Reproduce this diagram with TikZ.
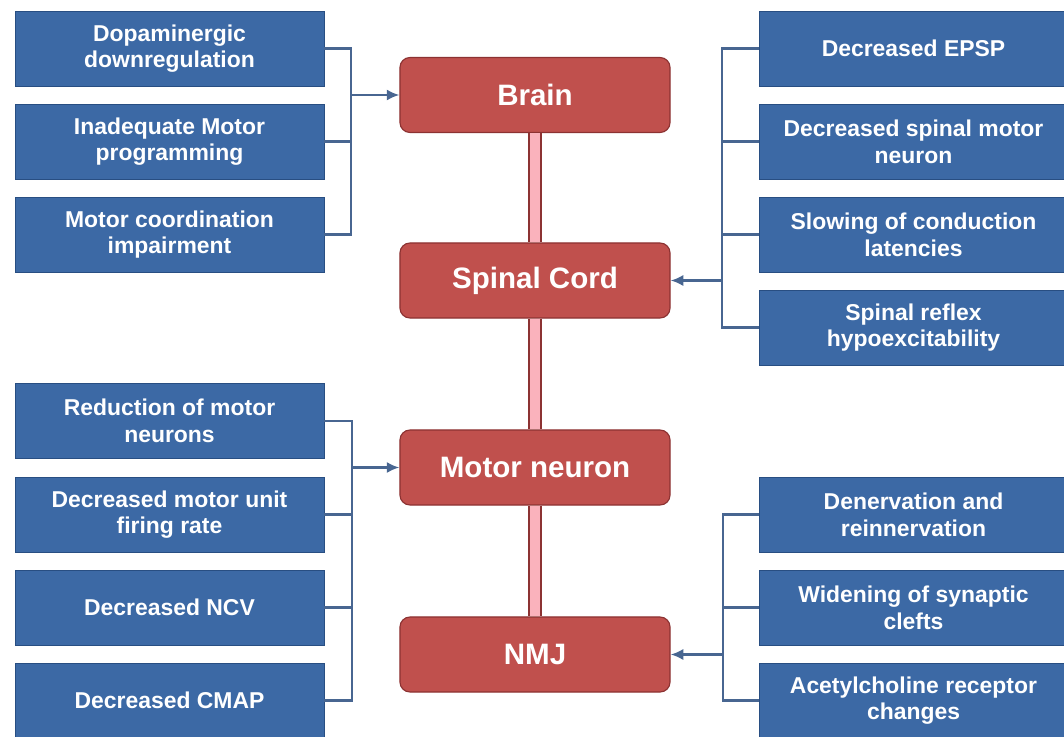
\documentclass[tikz,border=0pt]{standalone}
\usepackage{fontspec}
\setmainfont{Liberation Sans}
\usetikzlibrary{arrows.meta}
\definecolor{qblue}{RGB}{60,105,165}
\definecolor{qblueline}{RGB}{40,78,130}
\definecolor{qlink}{RGB}{72,102,145}
\definecolor{qred}{RGB}{192,80,77}
\definecolor{qredline}{RGB}{140,50,50}
\definecolor{qpink}{RGB}{250,178,188}

\begin{document}
\begin{tikzpicture}[x=0.025cm,y=-0.025cm,
  cause/.style={draw=qblueline, fill=qblue, line width=0.6pt, text=white,
    font=\bfseries\fontsize{16.3}{19}\selectfont, align=center,
    minimum width=7.725cm, minimum height=1.875cm, inner sep=0pt},
  organ/.style={draw=qredline, fill=qred, line width=0.8pt, text=white,
    font=\bfseries\fontsize{21}{25}\selectfont, rounded corners=0.25cm,
    minimum width=6.75cm, minimum height=1.875cm, inner sep=0pt},
  link/.style={draw=qlink, line width=2pt},
  feed/.style={link, -{Latex[length=9pt,width=8pt]}},
  shaft/.style={draw=qredline, double=qpink, double distance=7pt, line width=1.2pt}]
\useasboundingbox (0,0) rectangle (1064,736);

%Centre column:
\node[organ] (brain) at (535,95) {Brain};
\node[organ] (spinal) at (535,280.5) {Spinal Cord};
\node[organ] (mneuron) at (535,467.5) {Motor neuron};
\node[organ] (nmj) at (535,654.5) {NMJ};

\draw[shaft] (brain.south) -- (spinal.north);
\draw[shaft] (spinal.south) -- (mneuron.north);
\draw[shaft] (mneuron.south) -- (nmj.north);

%Brain:
\node[cause] (dopa) at (169.5,48.5) {Dopaminergic\\downregulation};
\node[cause] (prog) at (169.5,141.5) {Inadequate Motor\\programming};
\node[cause] (coord) at (169.5,234.5) {Motor coordination\\impairment};
\coordinate (jb) at (351,95);
\draw[link] (dopa.east) -- (dopa.east -| jb) -- (coord.east -| jb) -- (coord.east);
\draw[link] (prog.east) -- (prog.east -| jb);
\draw[feed] (jb) -- (brain.west);

%Spinal cord:
\node[cause] (epsp) at (913.5,48.5) {Decreased EPSP};
\node[cause] (smn) at (913.5,141.5) {Decreased spinal motor\\neuron};
\node[cause] (lat) at (913.5,234.5) {Slowing of conduction\\latencies};
\node[cause] (refl) at (913.5,327.5) {Spinal reflex\\hypoexcitability};
\coordinate (js) at (722,280.5);
\draw[link] (epsp.west) -- (epsp.west -| js) -- (refl.west -| js) -- (refl.west);
\draw[link] (smn.west) -- (smn.west -| js);
\draw[link] (lat.west) -- (lat.west -| js);
\draw[feed] (js) -- (spinal.east);

%Motor neuron:
\node[cause] (redmn) at (169.5,421) {Reduction of motor\\neurons};
\node[cause] (fire) at (169.5,514.5) {Decreased motor unit\\firing rate};
\node[cause] (ncv) at (169.5,607.5) {Decreased NCV};
\node[cause] (cmap) at (169.5,700.5) {Decreased CMAP};
\coordinate (jm) at (352,467.5);
\draw[link] (redmn.east) -- (redmn.east -| jm) -- (cmap.east -| jm) -- (cmap.east);
\draw[link] (fire.east) -- (fire.east -| jm);
\draw[link] (ncv.east) -- (ncv.east -| jm);
\draw[feed] (jm) -- (mneuron.west);

%NMJ:
\node[cause] (dener) at (913.5,514.5) {Denervation and\\reinnervation};
\node[cause] (cleft) at (913.5,607.5) {Widening of synaptic\\clefts};
\node[cause] (ach) at (913.5,700.5) {Acetylcholine receptor\\changes};
\coordinate (jn) at (723,654.5);
\draw[link] (dener.west) -- (dener.west -| jn) -- (ach.west -| jn) -- (ach.west);
\draw[link] (cleft.west) -- (cleft.west -| jn);
\draw[feed] (jn) -- (nmj.east);

\end{tikzpicture}
\end{document}
